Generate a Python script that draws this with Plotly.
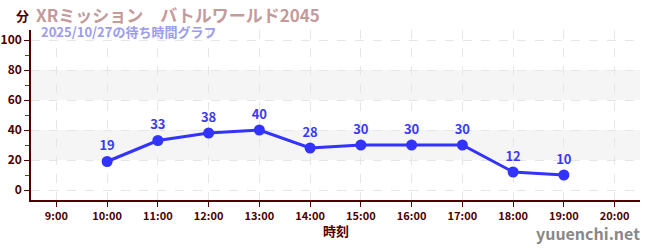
import plotly.graph_objects as go

hours = [10, 11, 12, 13, 14, 15, 16, 17, 18, 19]
waits = [19, 33, 38, 40, 28, 30, 30, 30, 12, 10]
tick_hours = list(range(9, 21))
tick_labels = [f"{h}:00" for h in tick_hours]
y_ticks = [0, 20, 40, 60, 80, 100]

title = "XRミッション　バトルワールド2045"
subtitle = "2025/10/27の待ち時間グラフ"

FONT = "Noto Sans CJK JP"
AXC = "#4d0000"

fig = go.Figure()
fig.add_trace(go.Scatter(
    x=hours, y=waits, mode="lines+markers+text",
    text=[str(v) for v in waits], textposition="top center",
    textfont=dict(family=FONT, size=13, color="#3a3af5", weight="bold"),
    line=dict(color="#3333ff", width=3),
    marker=dict(color="#3333ff", size=11),
    cliponaxis=False, hoverinfo="skip"))

for lo, hi in [(20, 40), (60, 80)]:
    fig.add_shape(type="rect", xref="paper", yref="y", x0=0, x1=1, y0=lo, y1=hi,
                  fillcolor="#f5f5f5", line=dict(width=0), layer="below")

fig.update_layout(
    width=650, height=250,
    margin=dict(l=31, r=10, t=30, b=50, autoexpand=False),
    plot_bgcolor="white", paper_bgcolor="white",
    showlegend=False,
    font=dict(family=FONT, color=AXC),
)
fig.update_xaxes(
    automargin=False,
    range=[8.5, 20.5], tickvals=tick_hours, ticktext=tick_labels,
    showline=True, linecolor=AXC, linewidth=1.5,
    ticks="outside", ticklen=5, tickcolor=AXC,
    tickfont=dict(family=FONT, size=11, color=AXC, weight="bold"),
    showgrid=True, gridcolor="#e6e6e6", griddash="dash", gridwidth=1,
    zeroline=False,
)
fig.update_yaxes(
    automargin=False,
    range=[-6.67, 106.67], tickvals=y_ticks,
    showline=True, linecolor=AXC, linewidth=1.5,
    ticks="outside", ticklen=5, tickcolor=AXC,
    tickfont=dict(family=FONT, size=12, color=AXC, weight="bold"),
    showgrid=True, gridcolor="#e6e6e6", griddash="dash", gridwidth=1,
    zeroline=False,
    minor=dict(tickvals=[10, 30, 50, 70, 90], ticks="outside", ticklen=4, tickcolor="#e00000", showgrid=False),
)

# titles and labels (positioned in paper coordinates relative to plot area)
fig.add_annotation(xref="paper", yref="paper", x=0.0, y=1.0, xanchor="left", yanchor="middle",
                   xshift=3, yshift=16, text=f"<b>{title}</b>", showarrow=False,
                   font=dict(family=FONT, size=17, color="#c49a9a"))
fig.add_annotation(xref="paper", yref="paper", x=0.0, y=1.0, xanchor="left", yanchor="middle",
                   xshift=8, yshift=-1, text=f"<b>{subtitle}</b>", showarrow=False,
                   font=dict(family=FONT, size=13, color="#9b9bf0"))
fig.add_annotation(xref="paper", yref="paper", x=0.0, y=1.0, xanchor="center", yanchor="middle",
                   xshift=-9, yshift=15, text="<b>分</b>", showarrow=False,
                   font=dict(family=FONT, size=13, color=AXC))
fig.add_annotation(xref="paper", yref="paper", x=0.5, y=0.0, xanchor="center", yanchor="middle",
                   yshift=-30, text="<b>時刻</b>", showarrow=False,
                   font=dict(family=FONT, size=13, color=AXC))
fig.add_annotation(xref="paper", yref="paper", x=1.0, y=0.0, xanchor="right", yanchor="middle",
                   xshift=2, yshift=-33, text="<b>yuuenchi.net</b>", showarrow=False,
                   font=dict(family=FONT, size=16, color="#888888"))

fig.write_html("out.html")
